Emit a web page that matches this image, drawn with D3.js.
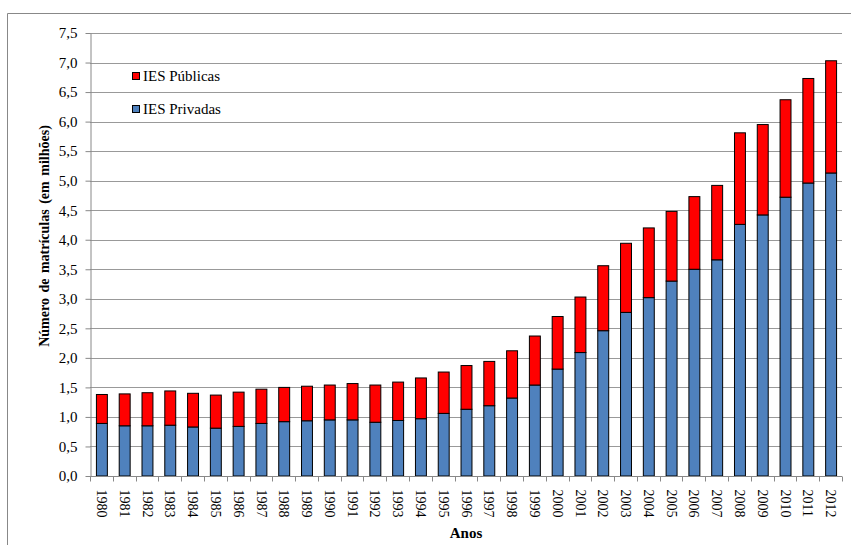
<!DOCTYPE html>
<html><head><meta charset="utf-8">
<script src="https://cdn.jsdelivr.net/npm/d3@7"></script>
<style>body{margin:0;background:#fff}svg{display:block}text{font-family:"Liberation Serif","Times New Roman",serif}</style>
</head><body><svg id="c" width="851" height="545"></svg>
<script>
const years = ["1980","1981","1982","1983","1984","1985","1986","1987","1988","1989","1990","1991","1992","1993","1994","1995","1996","1997","1998","1999","2000","2001","2002","2003","2004","2005","2006","2007","2008","2009","2010","2011","2012"];
const privadas = [0.89,0.85,0.85,0.86,0.83,0.81,0.84,0.89,0.92,0.935,0.95,0.95,0.91,0.94,0.97,1.06,1.13,1.19,1.32,1.54,1.81,2.09,2.46,2.77,3.02,3.30,3.50,3.66,4.26,4.42,4.72,4.96,5.13];
const totais = [1.38,1.39,1.41,1.44,1.40,1.37,1.42,1.47,1.50,1.52,1.54,1.565,1.54,1.59,1.66,1.76,1.87,1.94,2.12,2.37,2.70,3.03,3.56,3.94,4.20,4.48,4.73,4.92,5.81,5.95,6.37,6.73,7.03];
const publicas = totais.map((t,i)=>+(t-privadas[i]).toFixed(3));
const yTicks = [0,0.5,1,1.5,2,2.5,3,3.5,4,4.5,5,5.5,6,6.5,7,7.5];
const seriesNames = ["IES Públicas","IES Privadas"];
const colors = {"IES Privadas":"#4F81BD","IES Públicas":"#FF0000"};

const svg = d3.select("#c");
const L=90, R=842, T=33, B=476;
const FF = "Liberation Serif";
// outer border
svg.append("path").attr("d","M7.5,545 V13.5 H851").attr("fill","none").attr("stroke","#888").attr("stroke-width",1);

const x = d3.scaleBand().domain(years).range([L,R]).paddingInner(0.52).paddingOuter(0.26);
const y = d3.scaleLinear().domain([0,7.5]).range([B,T]);
const fmt = d=>d.toFixed(1).replace(".",",");

// gridlines
svg.append("g").selectAll("line").data(yTicks.filter(d=>d>0)).join("line")
  .attr("x1",L).attr("x2",R).attr("y1",d=>Math.round(y(d))+0.5).attr("y2",d=>Math.round(y(d))+0.5)
  .attr("stroke","#999").attr("stroke-width",1);

// y axis
const ya = svg.append("g").attr("transform",`translate(${L+0.5},0)`)
  .call(d3.axisLeft(y).tickValues(yTicks).tickFormat(fmt).tickSize(5).tickSizeOuter(0).tickPadding(8));
ya.attr("font-family",FF);
ya.select(".domain").attr("stroke","#888");
ya.selectAll(".tick line").attr("stroke","#888");
ya.selectAll(".tick text").attr("font-size",15).attr("fill","#000").style("font-family",FF);

// bars
const stackData = years.map((yr,i)=>({year:yr,"IES Privadas":privadas[i],"IES Públicas":publicas[i]}));
const stack = d3.stack().keys(["IES Privadas","IES Públicas"])(stackData);
svg.append("g").selectAll("g").data(stack).join("g").attr("fill",d=>colors[d.key])
  .selectAll("rect").data(d=>d).join("rect")
  .attr("x",d=>x(d.data.year)+0.5).attr("width",x.bandwidth())
  .attr("y",d=>y(d[1])).attr("height",d=>y(d[0])-y(d[1]))
  .attr("stroke","#000").attr("stroke-width",1);

// x axis
const xa = svg.append("g").attr("transform",`translate(0,${B+0.5})`);
xa.append("line").attr("x1",L).attr("x2",R).attr("stroke","#888");
xa.selectAll("line.tk").data(d3.range(years.length+1)).join("line").attr("class","tk")
  .attr("x1",i=>Math.round(L+i*(R-L)/years.length)+0.5).attr("x2",i=>Math.round(L+i*(R-L)/years.length)+0.5)
  .attr("y1",0).attr("y2",5).attr("stroke","#888");
xa.selectAll("text").data(years).join("text")
  .attr("transform",d=>`translate(${x(d)+x.bandwidth()/2+0.5},13) rotate(90)`)
  .attr("dy","0.35em").attr("font-size",14).attr("fill","#000").style("font-family",FF).text(d=>d);

// titles
svg.append("text").attr("x",466).attr("y",538).attr("text-anchor","middle").style("font-family",FF)
  .attr("font-size",15).attr("font-weight","bold").text("Anos");
svg.append("text").attr("transform",`translate(49,236) rotate(-90)`).attr("text-anchor","middle").style("font-family",FF)
  .attr("font-size",14).attr("font-weight","bold").attr("word-spacing",2).text("Número de matrículas (em milhões)");

// legend
const lg = svg.append("g").selectAll("g").data(seriesNames).join("g")
  .attr("transform",(d,i)=>`translate(132,${72+i*33})`);
lg.append("rect").attr("x",0.5).attr("y",0.5).attr("width",7).attr("height",7)
  .attr("fill",d=>colors[d]).attr("stroke","#000").attr("stroke-width",1);
lg.append("text").attr("x",11).attr("y",4).attr("dy","0.35em").attr("font-size",15).style("font-family",FF).text(d=>d);
</script></body></html>
